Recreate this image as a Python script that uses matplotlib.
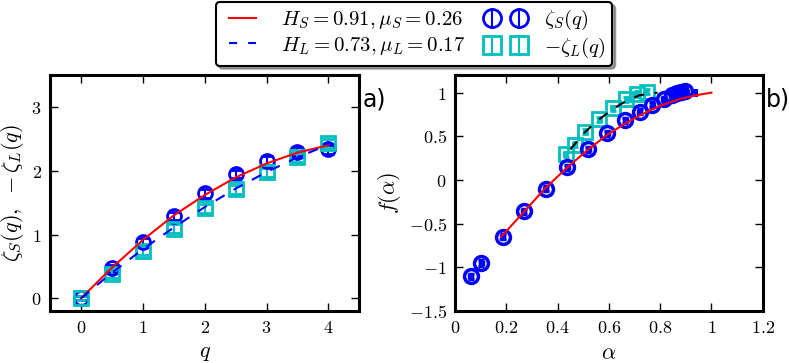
import matplotlib
matplotlib.use("Agg")
import matplotlib.pyplot as plt
from matplotlib.lines import Line2D
import numpy as np

plt.rcParams['mathtext.fontset'] = 'cm'
plt.rcParams['font.family'] = ['DejaVu Sans']

# ---- panel a) data ----
q = [0, 0.5, 1, 1.5, 2, 2.5, 3, 3.5, 4]
zeta_S = [0.0, 0.47, 0.89, 1.29, 1.65, 1.95, 2.16, 2.30, 2.34]
zeta_S_err = [0.03, 0.06, 0.06, 0.06, 0.07, 0.07, 0.07, 0.07, 0.07]
zeta_L = [0.0, 0.38, 0.74, 1.09, 1.41, 1.71, 1.98, 2.21, 2.43]
zeta_L_err = [0.03, 0.06, 0.06, 0.07, 0.07, 0.07, 0.07, 0.07, 0.07]
fit_S = [0.0, 0.48, 0.915, 1.30, 1.62, 1.895, 2.115, 2.285, 2.40]
fit_L = [0.0, 0.40, 0.77, 1.11, 1.43, 1.72, 1.98, 2.21, 2.41]

# ---- panel b) data ----
alpha_S = [0.062, 0.102, 0.186, 0.268, 0.354, 0.437, 0.520, 0.593, 0.664,
           0.721, 0.770, 0.814, 0.845, 0.866, 0.882, 0.895]
f_S = [-1.10, -0.95, -0.65, -0.36, -0.10, 0.145, 0.35, 0.535, 0.685,
       0.78, 0.86, 0.925, 0.97, 0.995, 1.01, 1.02]
alpha_S_err = [0.006] * len(alpha_S)
f_S_err = [0.03] * len(f_S)
alpha_extra = [0.94]
f_extra = [1.0]
alpha_L = [0.432, 0.466, 0.508, 0.562, 0.615, 0.667, 0.708, 0.748]
f_L = [0.295, 0.405, 0.555, 0.695, 0.82, 0.922, 0.985, 1.01]
alpha_L_err = [0.006] * len(alpha_L)
f_L_err = [0.03] * len(f_L)
fit_alpha_S = [0.18, 0.27, 0.35, 0.44, 0.52, 0.59, 0.66, 0.72, 0.80, 0.88, 0.94, 1.00]
fit_f_S = [-0.65, -0.36, -0.10, 0.15, 0.35, 0.51, 0.64, 0.74, 0.85, 0.93, 0.97, 1.00]
fit_alpha_L = [0.45, 0.50, 0.56, 0.62, 0.67, 0.72, 0.79]
fit_f_L = [0.35, 0.53, 0.69, 0.82, 0.91, 0.97, 1.00]

xt_a = [0, 1, 2, 3, 4]
yt_a = [0, 1, 2, 3]
xt_b = [0, 0.2, 0.4, 0.6, 0.8, 1.0, 1.2]
xtl_b = ['0', '0.2', '0.4', '0.6', '0.8', '1', '1.2']
yt_b = [-1.5, -1, -0.5, 0, 0.5, 1]
ytl_b = ['-1.5', '-1', '-0.5', '0', '0.5', '1']

BLUE = '#0000ff'
CYAN = '#00bfbf'

fig = plt.figure(figsize=(7.89, 3.63), dpi=100)
ax1 = fig.add_axes([0.0634, 0.143, 0.392, 0.650])
ax2 = fig.add_axes([0.5767, 0.143, 0.390, 0.650])

def style(ax):
    for s in ax.spines.values():
        s.set_linewidth(2.2)
    ax.tick_params(direction='in', length=6, width=1, top=True, right=True,
                   labelsize=13, pad=6)

# panel a
eS = ax1.errorbar(q, zeta_S, yerr=zeta_S_err, fmt='o', ms=10, mfc='none', mec=BLUE,
                  mew=2, ecolor=BLUE, elinewidth=1.5, capsize=4, capthick=1.5, zorder=3)
eL = ax1.errorbar(q, zeta_L, yerr=zeta_L_err, fmt='s', ms=10, mfc='none', mec=CYAN,
                  mew=2, ecolor=CYAN, elinewidth=1.5, capsize=4, capthick=1.5, zorder=3)
lS, = ax1.plot(q, fit_S, '-', color='red', lw=1.5, zorder=5)
lL, = ax1.plot(q, fit_L, '--', color=BLUE, lw=1.5, dashes=(5, 5), zorder=5)
ax1.set_xlim(-0.5, 4.5)
ax1.set_ylim(-0.2, 3.5)
ax1.set_xticks(xt_a)
ax1.set_xticklabels(['$%d$' % v for v in xt_a])
ax1.set_yticks(yt_a)
ax1.set_yticklabels(['$%d$' % v for v in yt_a])
ax1.set_xlabel('$q$', fontsize=16)
ax1.set_ylabel(r'$\zeta_S(q),\ -\zeta_L(q)$', fontsize=16)
style(ax1)

# panel b
ax2.errorbar(alpha_L, f_L, xerr=alpha_L_err, yerr=f_L_err, fmt='s', ms=10, mfc='none',
             mec=CYAN, mew=2, ecolor=CYAN, elinewidth=1.2, capsize=2, zorder=2)
ax2.errorbar(alpha_S, f_S, xerr=alpha_S_err, yerr=f_S_err, fmt='o', ms=10, mfc='none',
             mec=BLUE, mew=2.5, ecolor=BLUE, elinewidth=1.2, capsize=2, zorder=3)
ax2.plot(alpha_extra, f_extra, '|', color=BLUE, ms=6, mew=3, zorder=3)
ax2.plot(fit_alpha_S, fit_f_S, '-', color='red', lw=1.5, zorder=5)
ax2.plot(fit_alpha_L, fit_f_L, '--', color='black', lw=1.5, dashes=(5, 5), zorder=5)
ax2.set_xlim(0, 1.2)
ax2.set_ylim(-1.5, 1.2)
ax2.set_xticks(xt_b)
ax2.set_xticklabels(['$%s$' % t for t in xtl_b])
ax2.set_yticks(yt_b)
ax2.set_yticklabels(['$%s$' % t for t in ytl_b])
ax2.set_xlabel(r'$\alpha$', fontsize=16)
ax2.set_ylabel(r'$f(\alpha)$', fontsize=16)
style(ax2)

fig.text(0.459, 0.725, 'a)', fontsize=17, ha='left', va='center')
fig.text(0.971, 0.725, 'b)', fontsize=17, ha='left', va='center')

# legend proxies
pS = Line2D([], [], color='red', lw=1.5)
pL = Line2D([], [], color=BLUE, lw=1.5, linestyle=(0, (3.9, 5.3)))
hS = ax1.errorbar([], [], yerr=[], fmt='o', ms=10, mfc='none', mec=BLUE, mew=2,
                  ecolor=BLUE, elinewidth=1.5, capsize=0)
hL = ax1.errorbar([], [], yerr=[], fmt='s', ms=10, mfc='none', mec=CYAN, mew=2,
                  ecolor=CYAN, elinewidth=1.5, capsize=0)

leg = fig.legend([pS, pL, hS, hL],
                 [r'$H_S=0.91,\mu_S=0.26$', r'$H_L=0.73,\mu_L=0.17$',
                  r'$\zeta_S(q)$', r'$-\zeta_L(q)$'],
                 ncol=2, numpoints=2, loc='upper center',
                 bbox_to_anchor=(0.525, 1.0), borderaxespad=0.1, fontsize=15,
                 shadow=True, fancybox=True, framealpha=1, edgecolor='black',
                 borderpad=0.3, labelspacing=0.15, columnspacing=1.0,
                 handlelength=1.9, handletextpad=0.9, markerscale=1.3)
leg.get_frame().set_linewidth(1.5)

fig.savefig('out.png', dpi=100)
